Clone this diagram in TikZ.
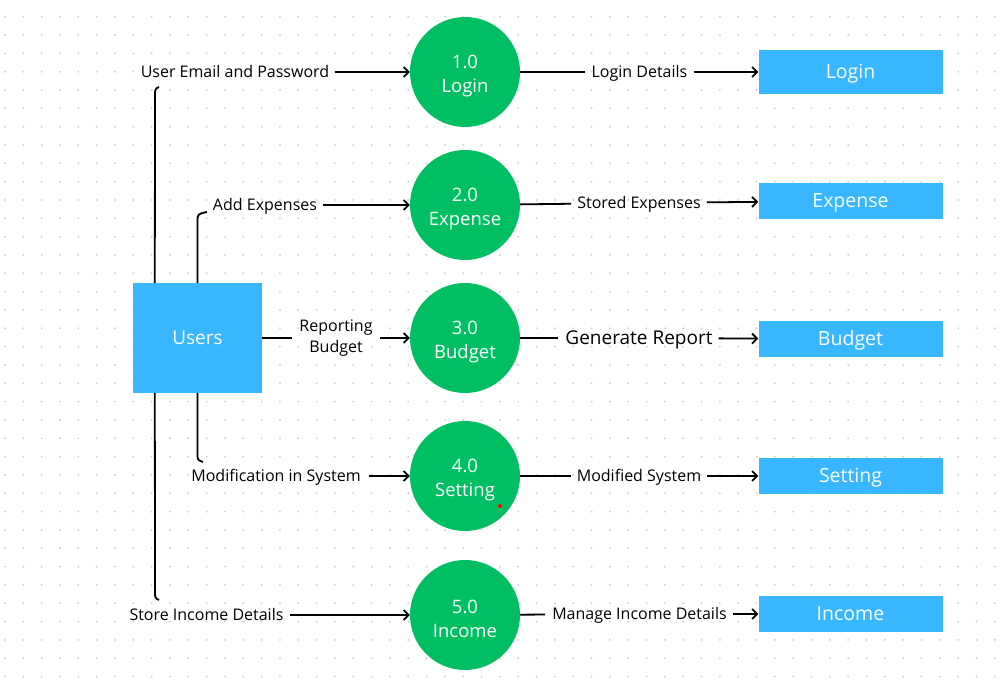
\documentclass[tikz,border=0pt]{standalone}
\usepackage{fontspec}
\setmainfont{Open Sans}
\usepackage{tikz}
\usetikzlibrary{positioning,arrows.meta,calc}
\definecolor{procgreen}{HTML}{00BF63}
\definecolor{storeblue}{HTML}{38B6FF}
\definecolor{griddot}{HTML}{CDD1DB}

\begin{document}
\begin{tikzpicture}[
  x=1pt, y=-1pt,
  every node/.style={font=\fontsize{16}{18}\selectfont},
  proc/.style={circle, fill=procgreen, minimum size=110pt, inner sep=0pt},
  ptext/.style={align=center, text=white, yshift=-4pt,
                font=\fontsize{18.5}{24}\selectfont},
  store/.style={fill=storeblue, minimum width=184pt, minimum height=36pt,
                inner sep=0pt, text=white, text height=13.6pt, text depth=0pt,
                font=\fontsize{19.5}{22}\selectfont},
  ent/.style={fill=storeblue, minimum width=129pt, minimum height=110pt,
              inner sep=0pt, text=white, text height=13.6pt, text depth=0pt,
              font=\fontsize{19}{22}\selectfont},
  lbl/.style={inner sep=0pt, text height=11.4pt, text depth=0pt},
  ln/.style={line width=1.8pt},
  arr/.style={-{Straight Barb[length=5pt,width=10pt]}, line width=1.8pt},
]
  \useasboundingbox (0,0) rectangle (1002,692);

  % Dotted canvas
  \foreach \i in {0,...,54}
    \foreach \j in {0,...,36}
      \fill[griddot] (5+18.33*\i, 16.7+18.33*\j) circle (1.1pt);

  % External entity and processes
  \node[ent] (users) at (197.5,338) {Users};
  \node[proc, label={[ptext]center:{1.0\\Login}}]   (p1) at (465,72)  {};
  \node[proc, label={[ptext]center:{2.0\\Expense}}] (p2) at (465,205) {};
  \node[proc, label={[ptext]center:{3.0\\Budget}}]  (p3) at (465,338) {};
  \node[proc, label={[ptext]center:{4.0\\Setting}}] (p4) at (465,476) {};
  \node[proc, label={[ptext]center:{5.0\\Income}}]  (p5) at (465,615) {};
  \fill[red] (500,506) circle (2pt);

  % Data stores
  \node[store, minimum height=44pt] (s1) at (850.5,72) {Login};
  \node[store] (s2) at (850.5,201) {Expense};
  \node[store] (s3) at (850.5,339) {Budget};
  \node[store] (s4) at (850.5,476) {Setting};
  \node[store] (s5) at (850.5,614) {Income};

  % Flow labels
  \node[lbl] (l1) at (235,72)    {User Email and Password};
  \node[lbl] (l2) at (265,205)   {Add Expenses};
  \node[inner sep=0pt, align=center, font=\fontsize{16}{21}\selectfont]
    (l3) at (336,338) {Reporting\\Budget};
  \node[lbl] (l4) at (276,476)   {Modification in System};
  \node[lbl] (l5) at (206.5,615) {Store Income Details};
  \node[lbl] (r1) at (639.5,72)  {Login Details};
  \node[lbl] (r2) at (639,203)   {Stored Expenses};
  \node[lbl, text height=13.6pt, font=\fontsize{19}{22}\selectfont]
    (r3) at (639,338) {Generate Report};
  \node[lbl] (r4) at (639,476)   {Modified System};
  \node[lbl] (r5) at (639.5,614) {Manage Income Details};

  % Ends of the bent lines under the labels
  \coordinate (t1) at (159,87);
  \coordinate (t2) at (207,212);
  \coordinate (t4) at (203,462);
  \coordinate (t5) at (159,600);

  % Users -> processes
  \draw[ln] ($(users.north west)+(22,0)$) -- ($(t1)+(-4,9)$)
    .. controls ($(t1)+(-4,2)$) .. (t1);
  \draw[ln] (users.north) -- ($(t2)+(-9.5,10)$)
    .. controls ($(t2)+(-9.5,2)$) .. (t2);
  \draw[ln, shorten >=7pt] (users) -- (l3);
  \draw[ln] (users.south) -- ($(t4)+(-5.5,-9)$)
    .. controls ($(t4)+(-5.5,-2)$) .. (t4);
  \draw[ln] ($(users.south west)+(22,0)$) -- ($(t5)+(-4,-9)$)
    .. controls ($(t5)+(-4,-2)$) .. (t5);

  \draw[arr, shorten <=6pt] (l1) -- (p1);
  \draw[arr, shorten <=6pt] (l2) -- (p2);
  \draw[arr, shorten <=7pt] (l3) -- (p3);
  \draw[arr, shorten <=8pt] (l4) -- (p4);
  \draw[arr, shorten <=6pt] (l5) -- (p5);

  % Processes -> data stores
  \draw[ln, shorten >=6pt] (p1) -- (r1);
  \draw[ln, shorten >=6pt] (p2) -- (r2);
  \draw[ln, shorten >=7pt] (p3) -- (r3);
  \draw[ln, shorten >=6pt] (p4) -- (r4);
  \draw[ln, shorten >=7pt] (p5) -- (r5);

  \draw[arr, shorten <=6pt] (r1) -- (s1);
  \draw[arr, shorten <=6pt] (r2) -- (s2);
  \draw[arr, shorten <=6pt] (r3) -- (s3);
  \draw[arr, shorten <=6pt] (r4) -- (s4);
  \draw[arr, shorten <=6pt] (r5) -- (s5);
\end{tikzpicture}
\end{document}
